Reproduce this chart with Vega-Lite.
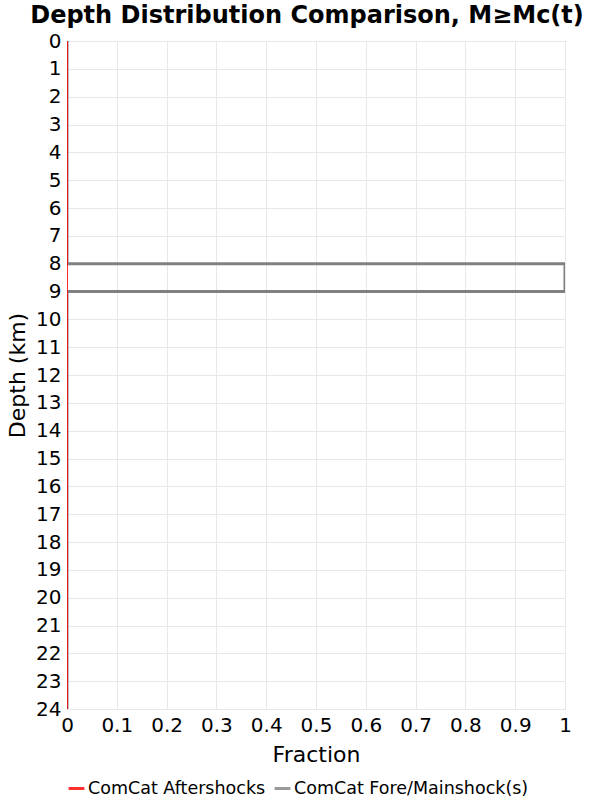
{
  "$schema": "https://vega.github.io/schema/vega-lite/v6.json",
  "autosize": "none",
  "width": 498,
  "height": 668,
  "padding": {"left": 67, "top": 41, "right": 35, "bottom": 91},
  "background": "white",
  "title": {
    "text": "Depth Distribution Comparison, M≥Mc(t)",
    "font": "DejaVu Sans",
    "fontSize": 24,
    "fontWeight": "bold",
    "color": "black",
    "anchor": "middle",
    "dx": -9,
    "offset": 3
  },
  "config": {
    "view": {"stroke": "#a0a0a0", "strokeWidth": 1},
    "font": "DejaVu Sans"
  },
  "datasets": {
    "fore": [
      {"series": "ComCat Fore/Mainshock(s)", "i": 1, "fraction": 0, "depth": 0},
      {"series": "ComCat Fore/Mainshock(s)", "i": 2, "fraction": 0, "depth": 8},
      {"series": "ComCat Fore/Mainshock(s)", "i": 3, "fraction": 1, "depth": 8},
      {"series": "ComCat Fore/Mainshock(s)", "i": 4, "fraction": 1, "depth": 9},
      {"series": "ComCat Fore/Mainshock(s)", "i": 5, "fraction": 0, "depth": 9},
      {"series": "ComCat Fore/Mainshock(s)", "i": 6, "fraction": 0, "depth": 24}
    ],
    "after": [
      {"series": "ComCat Aftershocks", "i": 1, "fraction": 0, "depth": 0},
      {"series": "ComCat Aftershocks", "i": 2, "fraction": 0, "depth": 24}
    ]
  },
  "encoding": {
    "x": {
      "field": "fraction", "type": "quantitative",
      "scale": {"domain": [0, 1], "nice": false, "zero": false},
      "axis": {
        "title": "Fraction", "titleFontSize": 22, "titleFontWeight": "normal", "titleColor": "black", "titlePadding": 9,
        "values": [0, 0.1, 0.2, 0.3, 0.4, 0.5, 0.6, 0.7, 0.8, 0.9, 1], "format": "~g",
        "labelFontSize": 20, "labelColor": "black", "labelPadding": 6, "labelFlush": false,
        "ticks": false, "domain": false, "grid": true, "gridColor": "#e8e8e8"
      }
    },
    "y": {
      "field": "depth", "type": "quantitative",
      "scale": {"domain": [0, 24], "reverse": true, "nice": false, "zero": false},
      "axis": {
        "title": "Depth (km)", "titleFontSize": 22, "titleFontWeight": "normal", "titleColor": "black", "titlePadding": 6,
        "values": [0,1,2,3,4,5,6,7,8,9,10,11,12,13,14,15,16,17,18,19,20,21,22,23,24],
        "labelFontSize": 20, "labelColor": "black", "labelPadding": 6, "labelFlush": false,
        "ticks": false, "domain": false, "grid": true, "gridColor": "#e8e8e8"
      }
    },
    "order": {"field": "i", "type": "quantitative"},
    "color": {
      "field": "series", "type": "nominal",
      "scale": {"domain": ["ComCat Aftershocks", "ComCat Fore/Mainshock(s)"], "range": ["#ff0000", "#808080"]},
      "legend": {
        "title": null, "orient": "bottom", "direction": "horizontal",
        "labelFontSize": 17.5, "labelColor": "black", "symbolType": "stroke", "symbolSize": 250, "symbolStrokeWidth": 3,
        "columnPadding": 2, "labelOffset": 2, "offset": 14, "labelLimit": 300
      }
    }
  },
  "layer": [
    {"data": {"name": "fore"}, "mark": {"type": "line", "strokeWidth": 3, "clip": true}},
    {"data": {"name": "after"}, "mark": {"type": "line", "strokeWidth": 2, "clip": true, "opacity": 0.8}}
  ]
}
